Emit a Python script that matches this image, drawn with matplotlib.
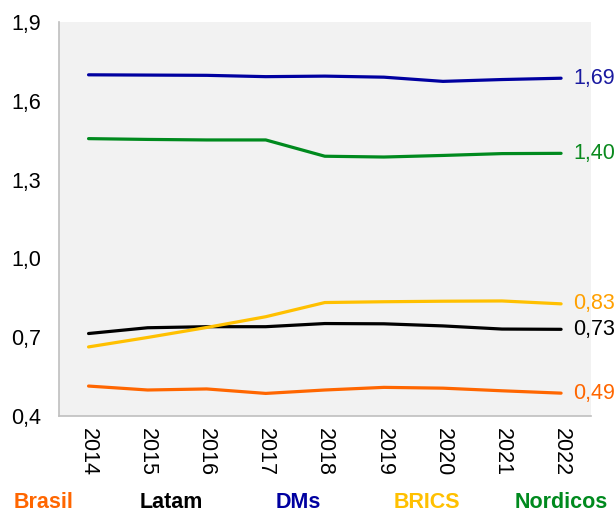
import matplotlib
matplotlib.use('Agg')
from matplotlib import pyplot as plt
from matplotlib.ticker import FuncFormatter

plt.rcParams['font.family'] = ['Liberation Sans', 'DejaVu Sans']

years = [2014, 2015, 2016, 2017, 2018, 2019, 2020, 2021, 2022]

# series values
brasil = [0.514, 0.499, 0.503, 0.486, 0.499, 0.509, 0.506, 0.496, 0.487]
latam = [0.714, 0.736, 0.740, 0.740, 0.752, 0.751, 0.743, 0.731, 0.730]
dms = [1.699, 1.698, 1.697, 1.692, 1.694, 1.690, 1.674, 1.681, 1.686]
brics = [0.663, 0.699, 0.737, 0.778, 0.832, 0.835, 0.837, 0.838, 0.827]
nordicos = [1.456, 1.453, 1.451, 1.451, 1.389, 1.386, 1.392, 1.399, 1.400]

names = ['Brasil', 'Latam', 'DMs', 'BRICS', 'Nordicos']
end_labels = ['0,49', '0,73', '1,69', '0,83', '1,40']
line_colors = ['#ff6600', '#000000', '#0000a0', '#ffc000', '#008a1e']
label_colors = ['#ff6600', '#000000', '#1a1aa0', '#ffa000', '#0a8a1e']

FS = 15.5

fig = plt.figure(figsize=(6.16, 5.12), dpi=100)
ax = fig.add_axes([0.0958, 0.1875, 0.863, 0.7695])
ax.set_facecolor('#f2f2f2')

for vals, c, lab, lc in zip([brasil, latam, dms, brics, nordicos],
                            line_colors, end_labels, label_colors):
    ax.plot(years, vals, color=c, lw=2.3, solid_capstyle='round')
    ax.annotate(lab, xy=(years[-1], vals[-1]), xytext=(9, 0),
                textcoords='offset points', color=lc, fontsize=FS,
                va='center', ha='left', annotation_clip=False)

ax.set_xlim(2013.5, 2022.5)
ax.set_ylim(0.4, 1.9)
ax.set_yticks([0.4, 0.7, 1.0, 1.3, 1.6, 1.9])
ax.yaxis.set_major_formatter(FuncFormatter(lambda v, p: f'{v:.1f}'.replace('.', ',')))
ax.set_xticks(years)
ax.set_xticklabels([str(y) for y in years], rotation=270)
ax.tick_params(axis='y', length=0, pad=13, labelsize=FS)
ax.tick_params(axis='x', length=0, pad=9, labelsize=FS)

for s in ['top', 'right']:
    ax.spines[s].set_visible(False)
for s in ['left', 'bottom']:
    ax.spines[s].set_color('#bfbfbf')
    ax.spines[s].set_linewidth(1.2)

# legend as coloured bold words along the bottom
leg_x = [44, 171, 298, 427, 561]
for n, c, x in zip(names, line_colors, leg_x):
    fig.text(x / 616, 1 - 503 / 512, n, color=c, fontsize=FS, fontweight='bold',
             ha='center', va='center')

fig.savefig('out.png', dpi=100)
